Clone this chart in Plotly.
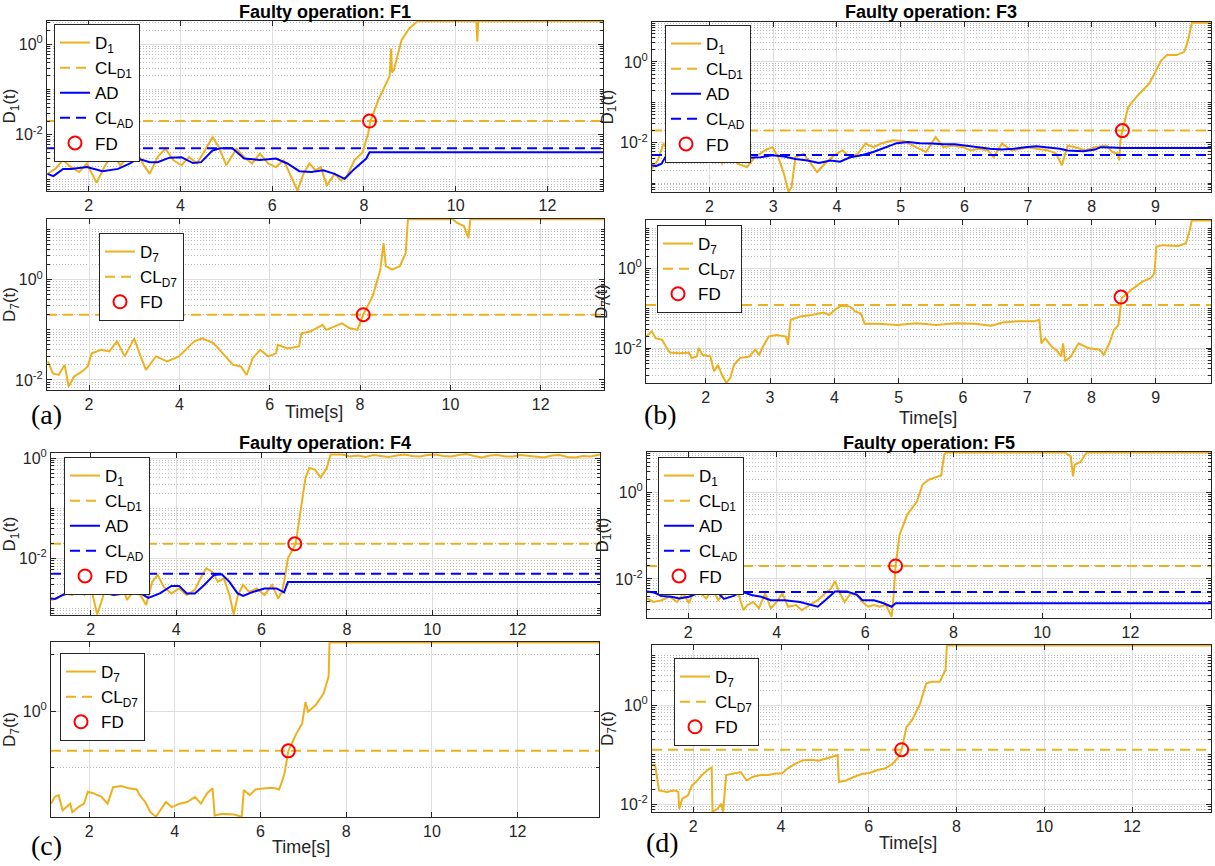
import math
import plotly.graph_objects as go

# ---------------- data ----------------
# each series: (time [s], log10 of the value)   (the y axes are logarithmic)

f1_d1 = [(1.10,-2.87),(1.27,-2.76),(1.44,-2.56),(1.61,-2.72),(1.79,-2.83),(1.96,-2.64),(2.17,-3.07),(2.34,-2.72),
         (2.52,-2.42),(2.69,-2.68),(2.86,-2.50),(3.03,-2.35),(3.20,-2.68),(3.33,-2.87),(3.50,-2.50),(3.67,-2.31),
         (3.85,-2.57),(4.02,-2.68),(4.19,-2.50),(4.36,-2.64),(4.53,-2.35),(4.70,-2.05),(4.83,-2.27),(5.00,-2.68),
         (5.22,-2.31),(5.39,-2.50),(5.56,-2.64),(5.73,-2.42),(5.91,-2.64),(6.08,-2.72),(6.25,-2.57),(6.42,-2.94),
         (6.55,-3.24),(6.68,-2.87),(6.81,-2.64),(6.94,-2.79),(7.06,-2.72),(7.19,-3.13),(7.36,-2.87),(7.49,-3.01),
         (7.62,-2.94),(7.79,-2.57),(7.97,-2.39),(8.09,-1.98),(8.14,-1.70),(8.31,-1.24),(8.52,-0.79),(8.56,-0.70),
         (8.59,-0.09),(8.61,-0.62),(8.65,-0.57),(8.82,0.10),(8.99,0.36),(9.10,0.46),(9.17,0.515),(10.45,0.515),
         (10.47,0.06),(10.49,0.515),(13.21,0.515)]
f1_ad = [(1.10,-2.87),(1.23,-2.92),(1.44,-2.76),(1.61,-2.76),(1.96,-2.72),(2.30,-2.81),(2.64,-2.76),(2.90,-2.64),
         (3.07,-2.53),(3.33,-2.61),(3.50,-2.61),(3.76,-2.51),(4.02,-2.50),(4.27,-2.63),(4.45,-2.61),(4.70,-2.35),
         (4.88,-2.30),(5.13,-2.30),(5.39,-2.53),(5.73,-2.56),(6.08,-2.53),(6.33,-2.64),(6.59,-2.81),(6.85,-2.83),
         (7.11,-2.79),(7.36,-2.87),(7.58,-2.98),(7.79,-2.76),(8.05,-2.53),(8.12,-2.39),(13.21,-2.39)]
f1_d7 = [(1.09,-1.63),(1.20,-1.87),(1.33,-1.90),(1.46,-1.70),(1.55,-2.13),(1.67,-1.93),(1.85,-1.83),(1.97,-1.73),
         (2.06,-1.47),(2.27,-1.40),(2.45,-1.43),(2.62,-1.23),(2.79,-1.53),(3.00,-1.17),(3.13,-1.50),(3.26,-1.80),
         (3.48,-1.53),(3.73,-1.63),(3.99,-1.53),(4.16,-1.37),(4.33,-1.23),(4.51,-1.17),(4.76,-1.27),(5.02,-1.53),
         (5.19,-1.70),(5.36,-1.73),(5.49,-1.90),(5.62,-1.57),(5.79,-1.40),(5.97,-1.53),(6.14,-1.47),(6.18,-1.30),
         (6.39,-1.37),(6.65,-1.33),(6.70,-1.07),(6.91,-1.03),(7.17,-0.90),(7.25,-1.00),(7.60,-0.87),(7.77,-0.97),
         (7.94,-1.00),(8.07,-0.70),(8.28,-0.33),(8.45,0.20),(8.52,0.73),(8.57,0.27),(8.71,0.20),(8.88,0.27),
         (9.01,0.53),(9.06,1.205),(10.05,1.205),(10.15,1.13),(10.30,1.07),(10.40,0.83),(10.44,1.205),(13.40,1.205)]

f3_d1 = [(1.10,-2.64),(1.19,-2.44),(1.28,-2.02),(1.37,-2.23),(1.49,-2.48),(1.65,-2.36),(1.83,-2.27),(1.95,-2.15),
         (2.07,-2.23),(2.20,-2.52),(2.32,-2.19),(2.44,-2.52),(2.59,-2.60),(2.71,-2.36),(2.87,-2.19),(2.99,-2.11),
         (3.08,-2.36),(3.17,-2.77),(3.24,-3.21),(3.29,-3.10),(3.35,-2.36),(3.48,-2.27),(3.60,-2.52),(3.69,-2.73),
         (3.81,-2.52),(3.96,-2.31),(4.09,-2.19),(4.21,-2.36),(4.33,-2.27),(4.45,-2.02),(4.57,-2.11),(4.70,-2.02),
         (4.88,-1.94),(5.06,-1.96),(5.24,-2.11),(5.40,-2.23),(5.55,-1.86),(5.67,-2.11),(5.82,-2.07),(5.98,-2.11),
         (6.10,-2.19),(6.22,-2.15),(6.37,-2.19),(6.46,-2.36),(6.59,-2.02),(6.74,-2.19),(6.89,-2.15),(7.01,-2.11),
         (7.13,-2.15),(7.32,-2.19),(7.44,-2.27),(7.53,-2.56),(7.62,-2.07),(7.74,-2.11),(7.90,-2.19),(8.05,-2.11),
         (8.23,-2.07),(8.32,-2.23),(8.41,-2.27),(8.43,-2.44),(8.45,-1.94),(8.48,-1.69),(8.57,-1.12),(8.72,-0.83),
         (8.90,-0.54),(9.01,-0.21),(9.09,0.04),(9.18,0.17),(9.33,0.17),(9.45,0.25),(9.51,0.54),(9.57,0.97),(9.87,0.97)]
f3_ad = [(1.10,-2.56),(1.16,-2.58),(1.25,-2.52),(1.34,-2.27),(1.52,-2.23),(1.77,-2.23),(2.01,-2.26),(2.20,-2.27),
         (2.44,-2.31),(2.62,-2.37),(2.80,-2.36),(2.99,-2.31),(3.17,-2.34),(3.35,-2.40),(3.54,-2.44),(3.72,-2.50),
         (3.90,-2.44),(4.05,-2.47),(4.21,-2.36),(4.39,-2.31),(4.57,-2.23),(4.76,-2.11),(4.94,-2.01),(5.12,-1.98),
         (5.30,-2.01),(5.49,-2.02),(5.67,-2.04),(5.85,-2.04),(6.04,-2.07),(6.22,-2.11),(6.40,-2.15),(6.59,-2.17),
         (6.77,-2.15),(6.95,-2.11),(7.13,-2.09),(7.32,-2.12),(7.50,-2.15),(7.62,-2.19),(7.87,-2.21),(8.05,-2.17),
         (8.14,-2.11),(8.30,-2.12),(8.48,-2.13),(9.87,-2.13)]
f3_d7 = [(1.07,-1.71),(1.13,-1.63),(1.16,-1.58),(1.22,-1.75),(1.32,-1.79),(1.38,-1.96),(1.44,-2.11),(1.59,-2.13),
         (1.74,-2.11),(1.78,-2.25),(1.86,-2.21),(1.89,-2.00),(1.95,-2.17),(2.07,-2.21),(2.13,-2.58),(2.19,-2.42),
         (2.25,-2.67),(2.32,-2.87),(2.38,-2.75),(2.44,-2.42),(2.53,-2.25),(2.68,-2.21),(2.77,-2.04),(2.83,-2.17),
         (2.89,-1.96),(2.98,-1.71),(3.10,-1.67),(3.25,-1.71),(3.28,-1.92),(3.32,-1.29),(3.47,-1.21),(3.65,-1.17),
         (3.83,-1.11),(3.92,-1.17),(4.01,-1.04),(4.10,-0.94),(4.25,-0.96),(4.32,-1.08),(4.41,-1.13),(4.44,-1.25),
         (4.47,-1.39),(4.68,-1.39),(4.98,-1.42),(5.28,-1.38),(5.59,-1.42),(5.89,-1.38),(6.19,-1.39),(6.44,-1.44),
         (6.62,-1.36),(6.86,-1.33),(7.10,-1.33),(7.19,-1.29),(7.22,-1.88),(7.28,-1.75),(7.38,-1.96),(7.47,-2.08),
         (7.53,-2.21),(7.56,-1.88),(7.59,-2.33),(7.68,-2.21),(7.80,-1.88),(7.95,-2.00),(8.13,-2.04),(8.19,-2.17),
         (8.28,-1.88),(8.35,-1.54),(8.38,-1.50),(8.42,-1.42),(8.45,-0.96),(8.47,-0.75),(8.62,-0.54),(8.80,-0.33),
         (8.92,-0.25),(8.98,-0.13),(9.01,0.54),(9.10,0.58),(9.35,0.56),(9.47,0.63),(9.53,0.96),(9.56,1.20),(9.86,1.20)]

f4_d1 = [(1.07,-2.83),(1.21,-2.80),(1.39,-2.70),(1.57,-2.73),(1.71,-2.63),(1.85,-2.73),(1.94,-2.53),(2.03,-2.67),
         (2.15,-3.12),(2.25,-2.87),(2.39,-2.47),(2.57,-2.73),(2.71,-2.47),(2.85,-2.83),(3.03,-2.63),(3.16,-2.73),
         (3.30,-2.93),(3.44,-2.47),(3.57,-2.33),(3.71,-2.57),(3.89,-2.70),(4.07,-2.60),(4.25,-2.73),(4.44,-2.63),
         (4.57,-2.40),(4.71,-2.20),(4.85,-2.27),(4.98,-2.47),(5.12,-2.40),(5.25,-2.73),(5.35,-3.12),(5.45,-2.73),
         (5.57,-2.53),(5.71,-2.67),(5.89,-2.60),(6.07,-2.73),(6.25,-2.53),(6.39,-2.80),(6.48,-2.67),(6.53,-2.47),
         (6.62,-2.00),(6.80,-1.71),(6.89,-1.20),(7.03,-0.40),(7.12,-0.20),(7.25,-0.23),(7.39,-0.39),(7.53,-0.20),
         (7.62,0.07),(7.89,0.07),(8.07,0.03),(8.25,0.05),(8.44,0.02),(8.62,0.06),(8.80,0.04),(8.98,0.02),
         (9.17,0.05),(9.35,0.07),(9.53,0.04),(9.71,0.03),(9.89,0.06),(10.07,0.07),(10.26,0.04),(10.44,0.03),
         (10.62,0.06),(10.80,0.08),(10.98,0.04),(11.16,0.01),(11.35,0.05),(11.53,0.06),(11.71,0.03),(11.89,0.03),
         (12.07,0.06),(12.25,0.04),(12.44,0.02),(12.62,0.01),(12.80,0.05),(12.98,0.06),(13.17,0.02),(13.35,0.01),
         (13.53,0.04),(13.71,0.03),(13.93,0.07)]
f4_ad = [(1.07,-2.80),(1.16,-2.81),(1.35,-2.73),(1.62,-2.65),(1.98,-2.60),(2.25,-2.67),(2.53,-2.73),(2.80,-2.70),
         (3.07,-2.65),(3.35,-2.79),(3.62,-2.70),(3.89,-2.55),(4.07,-2.55),(4.25,-2.70),(4.44,-2.70),(4.66,-2.53),
         (4.89,-2.33),(5.07,-2.32),(5.25,-2.47),(5.44,-2.70),(5.57,-2.75),(5.80,-2.67),(6.07,-2.60),(6.35,-2.60),
         (6.53,-2.68),(6.62,-2.47),(13.93,-2.47)]
f4_d7 = [(1.11,-1.63),(1.20,-1.51),(1.29,-1.48),(1.38,-1.75),(1.47,-1.69),(1.56,-1.63),(1.61,-1.78),(1.75,-1.69),
         (1.88,-1.63),(1.97,-1.42),(2.11,-1.45),(2.29,-1.51),(2.43,-1.63),(2.56,-1.34),(2.75,-1.32),(2.93,-1.36),
         (3.11,-1.38),(3.18,-1.48),(3.31,-1.60),(3.43,-1.78),(3.56,-1.86),(3.65,-1.75),(3.79,-1.60),(3.93,-1.69),
         (4.11,-1.63),(4.29,-1.60),(4.47,-1.51),(4.61,-1.63),(4.75,-1.45),(4.88,-1.36),(4.93,-1.84),(5.11,-1.81),
         (5.38,-1.82),(5.56,-1.86),(5.61,-1.39),(5.75,-1.48),(5.88,-1.38),(6.11,-1.36),(6.29,-1.35),(6.43,-1.38),
         (6.47,-1.31),(6.56,-1.10),(6.65,-0.70),(6.84,-0.39),(6.97,-0.22),(7.05,0.16),(7.11,-0.01),(7.29,0.11),
         (7.47,0.31),(7.59,0.61),(7.61,1.21),(13.9,1.21)]

f5_d1 = [(1.07,-2.45),(1.22,-2.53),(1.40,-2.49),(1.58,-2.41),(1.75,-2.53),(1.89,-2.33),(2.02,-2.56),(2.15,-2.22),
         (2.28,-2.33),(2.41,-2.45),(2.55,-2.22),(2.68,-2.49),(2.81,-2.33),(2.94,-2.22),(3.12,-2.29),(3.25,-2.72),
         (3.34,-2.60),(3.47,-2.53),(3.60,-2.68),(3.74,-2.33),(3.87,-2.68),(4.00,-2.53),(4.13,-2.33),(4.26,-2.64),
         (4.44,-2.60),(4.57,-2.72),(4.75,-2.60),(4.93,-2.49),(5.10,-2.33),(5.23,-2.22),(5.32,-2.05),(5.41,-2.29),
         (5.54,-2.53),(5.67,-2.33),(5.81,-2.37),(5.94,-2.53),(6.07,-2.64),(6.20,-2.60),(6.33,-2.64),(6.47,-2.60),
         (6.60,-2.87),(6.64,-2.45),(6.69,-1.69),(6.78,-0.98),(6.95,-0.52),(7.17,-0.22),(7.30,0.18),(7.44,0.29),
         (7.72,0.39),(7.79,0.87),(7.83,0.92),(10.52,0.92),(10.65,0.83),(10.70,0.37),(10.74,0.64),(10.87,0.70),
         (11.00,0.91),(11.05,0.92),(13.82,0.92)]
f5_ad = [(1.07,-2.29),(1.22,-2.31),(1.40,-2.39),(1.62,-2.41),(1.80,-2.45),(2.02,-2.41),(2.24,-2.32),(2.50,-2.29),
         (2.68,-2.33),(2.81,-2.46),(3.03,-2.39),(3.21,-2.29),(3.43,-2.37),(3.65,-2.41),(3.87,-2.49),(4.18,-2.49),
         (4.53,-2.53),(4.75,-2.60),(4.93,-2.64),(5.10,-2.49),(5.32,-2.29),(5.59,-2.29),(5.81,-2.36),(5.94,-2.49),
         (6.20,-2.49),(6.42,-2.56),(6.60,-2.64),(6.69,-2.56),(13.82,-2.56)]
f5_d7 = [(1.06,-1.21),(1.13,-1.21),(1.22,-1.72),(1.40,-1.75),(1.57,-1.72),(1.66,-1.75),(1.68,-2.09),(1.75,-1.89),
         (1.88,-1.82),(1.97,-1.62),(2.06,-1.55),(2.20,-1.41),(2.37,-1.28),(2.42,-1.26),(2.44,-2.15),(2.55,-2.09),
         (2.64,-1.99),(2.68,-2.15),(2.75,-1.41),(2.91,-1.38),(3.08,-1.35),(3.22,-1.52),(3.35,-1.45),(3.53,-1.41),
         (3.71,-1.41),(3.88,-1.38),(4.02,-1.38),(4.15,-1.28),(4.33,-1.18),(4.51,-1.11),(4.68,-1.10),(4.86,-1.12),
         (5.04,-1.08),(5.22,-1.03),(5.29,-1.01),(5.32,-1.55),(5.48,-1.52),(5.66,-1.45),(5.84,-1.39),(6.02,-1.37),
         (6.20,-1.31),(6.37,-1.28),(6.55,-1.18),(6.68,-1.04),(6.75,-0.90),(6.86,-0.44),(6.99,-0.30),(7.17,0.03),
         (7.31,0.44),(7.44,0.47),(7.62,0.47),(7.75,0.71),(7.78,1.20),(13.8,1.20)]

# control limits (CL_D1, CL_AD, CL_D7) per fault case
cl_d1 = {"F1": 0.020, "F3": 0.020, "F4": 0.0195, "F5": 0.020}
cl_ad = {"F1": 0.0050, "F3": 0.0050, "F4": 0.0049, "F5": 0.0050}
cl_d7 = {"F1": 0.20, "F3": 0.12, "F4": 0.20, "F5": 0.126}
# fault detection points (time, value) on the D1 and D7 plots
fd_d1 = {"F1": (8.12, 0.020), "F3": (8.48, 0.020), "F4": (6.78, 0.0195), "F5": (6.69, 0.020)}
fd_d7 = {"F1": (8.07, 0.20), "F3": (8.46, 0.19), "F4": (6.65, 0.20), "F5": (6.75, 0.126)}

xticks_long = [2, 4, 6, 8, 10, 12]
xticks_f3 = [2, 3, 4, 5, 6, 7, 8, 9]

# ---------------- layout geometry (pixels) ----------------
W, H = 1215, 866
ORANGE = "#EDB120"
BLUE = "#0000FF"
RED = "#FF0000"
AX = "#262626"
FONT = "Liberation Sans, Arial, Helvetica, sans-serif"
DASH = "10px,6px"

panels = [
    dict(f="F1", kind="D1", xp=(47, 603), yp=(21, 191), xr=(1.09, 13.21), yr=(-3.25, 0.52), xt=xticks_long, ym=[1e-2, 1], leg=(54, 24), d=f1_d1, ad=f1_ad),
    dict(f="F1", kind="D7", xp=(47, 604), yp=(219, 390), xr=(1.07, 13.40), yr=(-2.2, 1.21), xt=xticks_long, ym=[1e-2, 1], leg=(99, 233), d=f1_d7),
    dict(f="F3", kind="D1", xp=(652, 1211), yp=(22, 192), xr=(1.10, 9.87), yr=(-3.22, 0.99), xt=xticks_f3, ym=[1e-2, 1], leg=(665, 25), d=f3_d1, ad=f3_ad),
    dict(f="F3", kind="D7", xp=(646, 1211), yp=(220, 383), xr=(1.07, 9.86), yr=(-2.875, 1.21), xt=xticks_f3, ym=[1e-2, 1], leg=(657, 225), d=f3_d7),
    dict(f="F4", kind="D1", xp=(51, 600), yp=(453, 615), xr=(1.07, 13.93), yr=(-3.13, 0.10), xt=xticks_long, ym=[1e-2, 1], leg=(64, 457), d=f4_d1, ad=f4_ad),
    dict(f="F4", kind="D7", xp=(51, 599), yp=(642, 817), xr=(1.11, 13.90), yr=(-1.865, 1.22), xt=xticks_long, ym=[1], leg=(60, 653), d=f4_d7, decades_only=True),
    dict(f="F5", kind="D1", xp=(647, 1211), yp=(452, 618), xr=(1.07, 13.82), yr=(-2.90, 0.93), xt=xticks_long, ym=[1e-2, 1], leg=(658, 457), d=f5_d1, ad=f5_ad),
    dict(f="F5", kind="D7", xp=(652, 1211), yp=(645, 812), xr=(1.06, 13.80), yr=(-2.155, 1.21), xt=xticks_long, ym=[1e-2, 1], leg=(674, 658), d=f5_d7),
]


def minor_vals(major, decades_only=False):
    out = []
    for dec in range(-4, 3):
        for k in ([1] if decades_only else range(1, 10)):
            v = k * 10 ** dec
            if all(abs(v - m) / m > 1e-9 for m in major):
                out.append(v)
    return out


def tick_text(v):
    e = int(round(math.log10(v)))
    return f"10<sup>{e}</sup>"


fig = go.Figure()
layout = dict(width=W, height=H, margin=dict(l=0, r=0, t=0, b=0, autoexpand=False),
              paper_bgcolor="white", plot_bgcolor="white", showlegend=True,
              font=dict(family=FONT, color=AX))
annotations = []

for i, p in enumerate(panels, start=1):
    sfx = "" if i == 1 else str(i)
    xa, ya = "x" + sfx, "y" + sfx
    leg = "legend" + sfx
    t0, t1 = p["xr"]
    sub = "1" if p["kind"] == "D1" else "7"

    def add(x, y, name, **kw):
        fig.add_trace(go.Scatter(x=x, y=y, name=name, xaxis=xa, yaxis=ya, legend=leg,
                                 legendgroup=f"{i}-{name}", showlegend=True, **kw))

    d = p["d"]
    add([q[0] for q in d], [10 ** q[1] for q in d], f"D<sub>{sub}</sub>", mode="lines",
        line=dict(color=ORANGE, width=2))
    cl = cl_d1[p["f"]] if sub == "1" else cl_d7[p["f"]]
    add([t0, t1], [cl, cl], f"CL<sub>D{sub}</sub>", mode="lines",
        line=dict(color=ORANGE, width=2, dash=DASH))
    if "ad" in p:
        a = p["ad"]
        add([q[0] for q in a], [10 ** q[1] for q in a], "AD", mode="lines",
            line=dict(color=BLUE, width=2))
        add([t0, t1], [cl_ad[p["f"]]] * 2, "CL<sub>AD</sub>", mode="lines",
            line=dict(color=BLUE, width=2, dash=DASH))
    fd = fd_d1[p["f"]] if sub == "1" else fd_d7[p["f"]]
    add([fd[0]], [fd[1]], "FD", mode="markers",
        marker=dict(symbol="circle-open", size=13, color=RED, line=dict(width=2, color=RED)))

    x0, x1 = p["xp"]
    ytop, ybot = p["yp"]
    layout["xaxis" + sfx] = dict(
        domain=[x0 / W, x1 / W], anchor=ya, range=list(p["xr"]), tickvals=p["xt"], automargin=False,
        showline=True, linecolor=AX, linewidth=1, mirror="allticks", ticks="inside", ticklen=5,
        tickcolor=AX, tickfont=dict(family=FONT, size=16, color=AX),
        showgrid=True, gridcolor="#DEDEDE", gridwidth=1, zeroline=False)
    layout["yaxis" + sfx] = dict(
        domain=[1 - ybot / H, 1 - ytop / H], anchor=xa, type="log", range=list(p["yr"]), automargin=False,
        tickvals=p["ym"], ticktext=[tick_text(v) for v in p["ym"]],
        showline=True, linecolor=AX, linewidth=1, mirror="allticks", ticks="inside", ticklen=5,
        tickcolor=AX, tickfont=dict(family=FONT, size=16, color=AX),
        showgrid=True, gridcolor="#DEDEDE", gridwidth=1, zeroline=False,
        minor=dict(tickvals=minor_vals(p["ym"], p.get("decades_only", False)), ticks="inside",
                   ticklen=3, tickcolor=AX, showgrid=True, gridcolor="#BEBEBE", griddash="1px,2px", gridwidth=1),
        title=dict(text=f"D<sub>{sub}</sub>(t)", font=dict(family=FONT, size=17, color=AX), standoff=2))
    lx, ly = p["leg"]
    layout[leg] = dict(x=lx / W, y=1 - ly / H, xanchor="left", yanchor="top", xref="paper", yref="paper",
                       bgcolor="white", bordercolor=AX, borderwidth=1, tracegroupgap=0,
                       font=dict(family=FONT, size=17, color="black"), itemwidth=30)

# panel titles
for txt, cx, cy in [("Faulty operation: F1", 325, 12), ("Faulty operation: F3", 931, 12),
                    ("Faulty operation: F4", 325, 443), ("Faulty operation: F5", 929, 443)]:
    annotations.append(dict(text=f"<b>{txt}</b>", x=cx / W, y=1 - cy / H, xref="paper", yref="paper",
                            showarrow=False, xanchor="center", yanchor="middle",
                            font=dict(family=FONT, size=18, color="black")))
# x labels
for cx, cy in [(314, 412), (928, 418), (301, 847), (908, 843)]:
    annotations.append(dict(text="Time[s]", x=cx / W, y=1 - cy / H, xref="paper", yref="paper",
                            showarrow=False, xanchor="center", yanchor="middle",
                            font=dict(family=FONT, size=18, color=AX)))
# panel letters
for txt, cx, cy in [("(a)", 46, 415), ("(b)", 660, 415), ("(c)", 46, 845), ("(d)", 662, 842)]:
    annotations.append(dict(text=txt, x=cx / W, y=1 - cy / H, xref="paper", yref="paper",
                            showarrow=False, xanchor="center", yanchor="middle",
                            font=dict(family="Liberation Serif, Times New Roman, serif", size=28, color="black")))

layout["annotations"] = annotations
fig.update_layout(**layout)
fig.write_html("out.html", config={"displayModeBar": False},
               post_script="document.body.style.margin='0px';document.body.style.overflow='hidden';")
